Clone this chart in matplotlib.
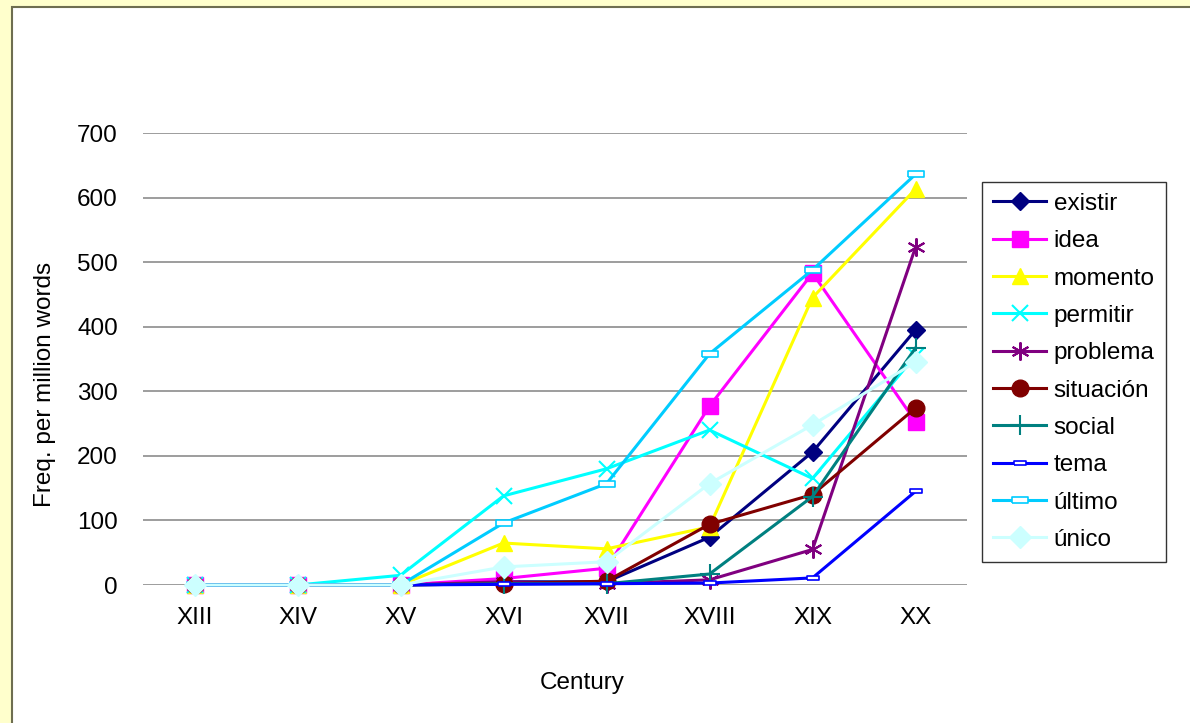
import numpy as np
import matplotlib.pyplot as plt
from matplotlib.patches import Rectangle

# ----------------------------------------------------------------------
# data
# ----------------------------------------------------------------------
centuries = ['XIII', 'XIV', 'XV', 'XVI', 'XVII', 'XVIII', 'XIX', 'XX']

existir   = [0, 0, 0, 5, 5, 74, 206, 395]
idea      = [0, 0, 0, 10, 26, 277, 483, 253]
momento   = [0, 0, 0, 65, 56, 90, 445, 613]
permitir  = [0, 0, 15, 138, 180, 240, 165, 355]
problema  = [0, 0, 0, 5, 2, 8, 55, 523]
situacion = [0, 0, 0, 2, 6, 94, 140, 274]
social    = [0, 0, 0, 2, 2, 17, 137, 367]
tema      = [0, 0, 0, 1, 2, 3, 11, 145]
ultimo    = [0, 0, 0, 96, 157, 358, 488, 636]
unico     = [0, 0, 0, 28, 36, 157, 248, 345]

labels = ['existir', 'idea', 'momento', 'permitir', 'problema',
          'situación', 'social', 'tema', 'último', 'único']

plt.rcParams['font.family'] = ['Liberation Sans', 'DejaVu Sans']

# excel-ish "dash" marker
dash = [(-1, -0.35), (1, -0.35), (1, 0.35), (-1, 0.35), (-1, -0.35)]

styles = [
    dict(color='#000080', marker='D', ms=9, mfc='#000080'),
    dict(color='#FF00FF', marker='s', ms=11, mfc='#FF00FF'),
    dict(color='#FFFF00', marker='^', ms=12, mfc='#FFFF00'),
    dict(color='#00FFFF', marker='x', ms=12, mew=1.5),
    dict(color='#800080', marker=(6, 2, 0), ms=13, mew=1.5),
    dict(color='#800000', marker='o', ms=12, mfc='#800000'),
    dict(color='#008080', marker='+', ms=14, mew=1.5),
    dict(color='#0000FF', marker=dash, ms=9, mfc='white', mew=1.2),
    dict(color='#00CCFF', marker=dash, ms=11, mfc='white', mew=1.2),
    dict(color='#CCFFFF', marker='D', ms=11, mfc='#CCFFFF'),
]

series = [existir, idea, momento, permitir, problema,
          situacion, social, tema, ultimo, unico]

fig = plt.figure(figsize=(11.9, 7.23), dpi=100)
fig.patch.set_facecolor('#FFFFCC')
# white chart area with a thin border (right/bottom run off the picture)
fig.patches.append(Rectangle((12 / 1190, -0.01), 1, 1.01 - 7 / 723, transform=fig.transFigure,
                             facecolor='white', edgecolor='#6E6E50', linewidth=1.5, zorder=-10))

ax = fig.add_axes([143 / 1190, 1 - 585 / 723, 824 / 1190, 452 / 723])
ax.set_facecolor('none')
ax.set_zorder(2)

x = np.arange(len(centuries))
for vals, lab, st in zip(series, labels, styles):
    ax.plot(x, vals, label=lab, linewidth=2.2, clip_on=False, **st)

ax.set_xlim(-0.5, len(centuries) - 0.5)
ax.set_ylim(0, 700)
ax.set_yticks(np.arange(0, 701, 100))
ax.set_xticks(x)
ax.set_xticklabels(centuries)
ax.yaxis.grid(True, color='#8C8C8C', linewidth=1.2)
ax.set_axisbelow(True)
for s in ax.spines.values():
    s.set_visible(False)
ax.tick_params(axis='both', length=0, labelsize=17.5)
ax.tick_params(axis='y', pad=18)
ax.tick_params(axis='x', pad=16)

fig.text(582 / 1190, 1 - 683 / 723, 'Century', ha='center', va='center', fontsize=17.5)
fig.text(45 / 1190, 1 - 384 / 723, 'Freq. per million words', ha='center', va='center',
         rotation=90, fontsize=17.5)

leg = fig.legend(loc='upper left', bbox_to_anchor=(982 / 1190, 1 - 182 / 723),
                 borderaxespad=0, fontsize=17.5, frameon=True, fancybox=False,
                 handlelength=2.2, handletextpad=0.3, labelspacing=0.63,
                 borderpad=0.45)
leg.get_frame().set_edgecolor('black')
leg.get_frame().set_linewidth(1.0)
leg.set_zorder(3)

fig.savefig('out.png', dpi=100, facecolor=fig.get_facecolor())
